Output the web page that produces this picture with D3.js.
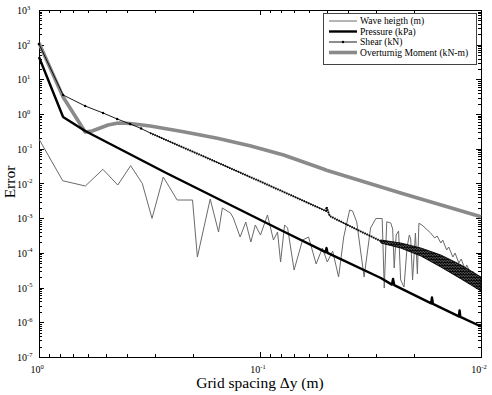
<!DOCTYPE html>
<html>
<head>
<meta charset="utf-8">
<script src="https://cdn.jsdelivr.net/npm/d3@7"></script>
<style>
body { margin: 0; background: #fff; }
text { font-family: "Liberation Serif", "Times New Roman", serif; fill: #000; }
</style>
</head>
<body>
<svg id="chart" width="492" height="395"></svg>
<script>
// values: grid spacing (m) and error
var waveX = [1, 0.781, 0.617, 0.514, 0.440, 0.385, 0.341, 0.308, 0.274, 0.237, 0.202, 0.192, 0.168, 0.154, 0.148, 0.136, 0.132, 0.123, 0.116, 0.110,
  0.105, 0.0995, 0.0925, 0.0869, 0.0833, 0.0807, 0.0774, 0.0750, 0.0701, 0.0642, 0.0603, 0.0557, 0.0522, 0.0496, 0.0469, 0.0441, 0.0418, 0.0393, 0.0381, 0.0365,
  0.0338, 0.0316, 0.0299, 0.0280, 0.0274, 0.0267, 0.0256, 0.0251, 0.0247, 0.0242, 0.0236, 0.0231, 0.0223, 0.0216, 0.0211, 0.0208, 0.0204, 0.0198, 0.0194, 0.0191,
  0.0185, 0.0169, 0.0162, 0.0158, 0.0152, 0.0149, 0.0143, 0.0140, 0.0134, 0.0131, 0.0126, 0.0123, 0.0118, 0.0116, 0.0111, 0.0109, 0.0104, 0.0102, 0.0100];
var waveY = [0.191, 0.0120, 0.00847, 0.0256, 0.00904, 0.0326, 0.0101, 0.00099, 0.0154, 0.00334, 0.00334, 7.6e-5, 0.00357, 4.0e-4, 0.00197, 0.00141, 0.00101, 2.87e-4, 7.76e-4, 2.06e-4,
  6.37e-4, 3.27e-4, 0.00124, 2.35e-4, 4.0e-4, 5.46e-5, 6.37e-4, 5.21e-4, 3.21e-5, 2.35e-4, 2.87e-4, 4.79e-5, 1.38e-4, 5.46e-5, 1.13e-4, 2.02e-5, 2.87e-4, 0.00172, 0.00161, 7.76e-4,
  2.02e-5, 5.21e-4, 9.8e-4, 9.8e-4, 9.7e-6, 7.9e-4, 7.26e-4, 4.88e-4, 3.67e-5, 3.27e-4, 4.28e-4, 1.66e-5, 1.04e-5, 1.48e-4, 3.27e-4, 2.51e-4, 1.66e-5, 3.74e-4, 2.47e-5, 7.13e-4,
  6.37e-4, 3.74e-4, 2.69e-4, 3.07e-4, 1.93e-4, 2.35e-4, 1.21e-4, 1.48e-4, 7.6e-5, 9.93e-5, 5.12e-5, 6.67e-5, 3.44e-5, 4.48e-5, 2.47e-5, 3.0e-5, 1.66e-5, 1.89e-5, 1.19e-5];

var pressureX = [1, 0.778, 0.618, 0.2655, 0.0807, 0.0505, 0.05, 0.0495, 0.0284, 0.0253, 0.025, 0.0247, 0.0168, 0.01667, 0.0165, 0.0126, 0.0125, 0.0124, 0.01];
var pressureY = [44.2, 0.825, 0.326, 0.0201, 4.57e-4, 1.05e-4, 1.38e-4, 1.0e-4, 1.89e-5, 1.22e-5, 1.77e-5, 1.18e-5, 3.5e-6, 5.18e-6, 3.4e-6, 1.48e-6, 2.19e-6, 1.44e-6, 7.55e-7];

var shearX = [1, 0.778, 0.618, 0.513, 0.443, 0.387, 0.345, 0.314, 0.186, 0.0995, 0.0503, 0.05, 0.0484, 0.0369, 0.0284];
var shearY = [105, 3.55, 1.71, 1.076, 0.723, 0.519, 0.385, 0.285, 0.0662, 0.0114, 0.00161, 0.0021, 0.00116, 4.88e-4, 2.2e-4];
// on the fine grids the shear oscillates and fills a band
var shearBandX = [0.0284, 0.0231, 0.0187, 0.0152, 0.0123, 0.01];
var shearBandTop = [2.35e-4, 1.93e-4, 1.38e-4, 8.7e-5, 4.48e-5, 2.02e-5];
var shearBandBottom = [1.93e-4, 1.38e-4, 8.13e-5, 3.92e-5, 1.77e-5, 7.97e-6];

var momentX = [1, 0.778, 0.618, 0.575, 0.529, 0.487, 0.438, 0.387, 0.314, 0.222, 0.156, 0.110, 0.0782, 0.0521, 0.05, 0.0231, 0.01];
var momentY = [112, 3.11, 0.305, 0.326, 0.398, 0.485, 0.553, 0.536, 0.454, 0.311, 0.200, 0.120, 0.0662, 0.0265, 0.0240, 0.00532, 0.0011];

var legendLabels = ["Wave heigth (m)", "Pressure (kPa)", "Shear (kN)", "Overturnig Moment (kN-m)"];
var xDecades = [0, -1, -2];
var yDecades = [3, 2, 1, 0, -1, -2, -3, -4, -5, -6, -7];

var plot = {left: 39, right: 481, top: 10, bottom: 357};

var svg = d3.select("#chart");

var x = d3.scaleLog().domain([1, 0.01]).range([plot.left, plot.right]);
var y = d3.scaleLog().domain([1e-7, 1e3]).range([plot.bottom, plot.top]);

function pts(xs, ys) {
  return xs.map(function (d, i) { return [d, ys[i]]; });
}

// log ticks, 1..9 per decade
function logTicks(lo, hi) {
  var t = [];
  for (var e = lo; e < hi; e++) {
    for (var m = 1; m < 10; m++) t.push({v: m * Math.pow(10, e), major: m === 1});
  }
  t.push({v: Math.pow(10, hi), major: true});
  return t;
}
var xt = logTicks(-2, 0), yt = logTicks(-7, 3);

var axes = svg.append("g").attr("stroke", "#000").attr("stroke-width", 1).attr("shape-rendering", "crispEdges");
xt.forEach(function (t) {
  var px = Math.round(x(t.v)) + 0.5, len = t.major ? 5 : 3;
  axes.append("line").attr("x1", px).attr("x2", px).attr("y1", plot.bottom).attr("y2", plot.bottom - len);
  axes.append("line").attr("x1", px).attr("x2", px).attr("y1", plot.top).attr("y2", plot.top + len);
});
yt.forEach(function (t) {
  var py = Math.round(y(t.v)) + 0.5, len = t.major ? 5 : 3;
  axes.append("line").attr("x1", plot.left).attr("x2", plot.left + len).attr("y1", py).attr("y2", py);
  axes.append("line").attr("x1", plot.right).attr("x2", plot.right - len).attr("y1", py).attr("y2", py);
});
axes.append("rect")
  .attr("x", plot.left + 0.5).attr("y", plot.top + 0.5)
  .attr("width", plot.right - plot.left).attr("height", plot.bottom - plot.top)
  .attr("fill", "none");

function powLabel(sel, e) {
  sel.append("tspan").text("10");
  sel.append("tspan").attr("dy", -4.5).attr("font-size", 6.5).text(e);
}
xDecades.forEach(function (e) {
  var t = svg.append("text").attr("x", x(Math.pow(10, e)) - 2).attr("y", 373)
    .attr("font-size", 10).attr("text-anchor", "middle");
  powLabel(t, e);
});
yDecades.forEach(function (e) {
  var t = svg.append("text").attr("x", 17).attr("y", y(Math.pow(10, e)) + 4)
    .attr("font-size", 10);
  powLabel(t, e);
});

svg.append("text").attr("x", 260).attr("y", 388).attr("text-anchor", "middle")
  .attr("font-size", 15.5).text("Grid spacing \u0394y (m)");
svg.append("text").attr("transform", "translate(14.5,182) rotate(-90)")
  .attr("text-anchor", "middle").attr("font-size", 15.5).text("Error");

// hatch so the shear band keeps a little light, as the dense zig-zag does
var defs = svg.append("defs");
var hatch = defs.append("pattern").attr("id", "hatch").attr("patternUnits", "userSpaceOnUse")
  .attr("width", 1.6).attr("height", 3);
hatch.append("rect").attr("width", 1.6).attr("height", 3).attr("fill", "#777");
hatch.append("path").attr("d", "M0,3 L1.6,0").attr("stroke", "#000").attr("stroke-width", 1.2);

var line = d3.line().x(function (d) { return x(d[0]); }).y(function (d) { return y(d[1]); });
var g = svg.append("g").attr("fill", "none").attr("stroke-linejoin", "round");

// overturning moment
g.append("path").attr("d", line(pts(momentX, momentY)))
  .attr("stroke", "#8a8a8a").attr("stroke-width", 3.6);

// wave height
g.append("path").attr("d", line(pts(waveX, waveY)))
  .attr("stroke", "#6a6a6a").attr("stroke-width", 1);

// shear
var shear = pts(shearX, shearY);
g.append("path").attr("d", line(shear)).attr("stroke", "#000").attr("stroke-width", 0.9);
g.append("path").attr("d", line(shear.filter(function (d) { return d[0] <= 0.32; })))
  .attr("stroke", "#000").attr("stroke-width", 2.2).attr("stroke-dasharray", "1,1.4");
svg.append("g").selectAll("circle").data(shear.filter(function (d) { return d[0] > 0.32; }))
  .enter().append("circle")
  .attr("cx", function (d) { return x(d[0]); }).attr("cy", function (d) { return y(d[1]); })
  .attr("r", 1.2).attr("fill", "#000");
var band = d3.area()
  .x(function (d, i) { return x(shearBandX[i]); })
  .y0(function (d, i) { return y(shearBandBottom[i]); })
  .y1(function (d, i) { return y(shearBandTop[i]); });
svg.append("path").attr("d", band(shearBandX)).attr("fill", "url(#hatch)")
  .attr("stroke", "#000").attr("stroke-width", 0.9);

// pressure
g.append("path").attr("d", line(pts(pressureX, pressureY)))
  .attr("stroke", "#000").attr("stroke-width", 2.4);

// legend
var lg = svg.append("g");
lg.append("rect").attr("x", 323.5).attr("y", 13.5).attr("width", 153).attr("height", 51)
  .attr("fill", "#fff").attr("stroke", "#444").attr("stroke-width", 1);
var legendStyle = [
  {color: "#6a6a6a", w: 1},
  {color: "#000", w: 2.4},
  {color: "#000", w: 0.9, dot: true},
  {color: "#8a8a8a", w: 3.6}
];
legendLabels.forEach(function (name, i) {
  var ly = 21 + i * 10.5, s = legendStyle[i];
  lg.append("line").attr("x1", 329).attr("x2", 357).attr("y1", ly).attr("y2", ly)
    .attr("stroke", s.color).attr("stroke-width", s.w);
  if (s.dot) lg.append("circle").attr("cx", 343).attr("cy", ly).attr("r", 1.2).attr("fill", "#000");
  lg.append("text").attr("x", 360).attr("y", ly + 3.3).attr("font-size", 9.6).text(name);
});
</script>
</body>
</html>
